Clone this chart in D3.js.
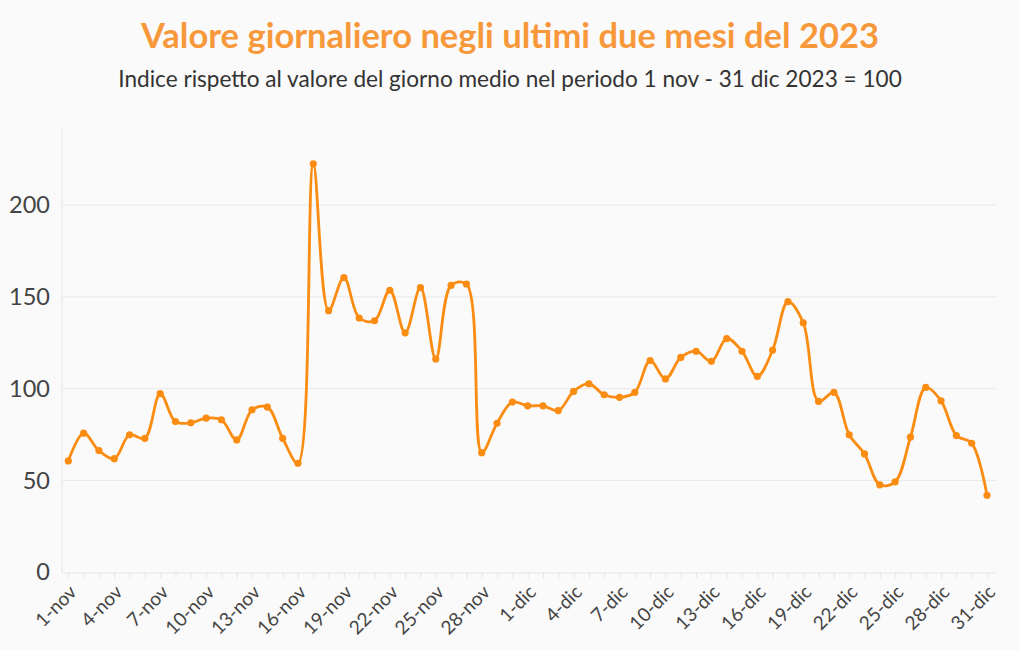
<!DOCTYPE html>
<html>
<head>
<meta charset="utf-8">
<script src="https://cdn.jsdelivr.net/npm/d3@7"></script>
<style>
  html, body { margin: 0; padding: 0; background: #fafafa; }
  svg { display: block; font-family: Lato, "Noto Sans", sans-serif; }
</style>
</head>
<body>
<svg id="chart" width="1020" height="650"></svg>
<script>
const title = "Valore giornaliero negli ultimi due mesi del 2023";
const subtitle = "Indice rispetto al valore del giorno medio nel periodo 1 nov - 31 dic 2023 = 100";

const days = [
  "1-nov","2-nov","3-nov","4-nov","5-nov","6-nov","7-nov","8-nov","9-nov","10-nov",
  "11-nov","12-nov","13-nov","14-nov","15-nov","16-nov","17-nov","18-nov","19-nov","20-nov",
  "21-nov","22-nov","23-nov","24-nov","25-nov","26-nov","27-nov","28-nov","29-nov","30-nov",
  "1-dic","2-dic","3-dic","4-dic","5-dic","6-dic","7-dic","8-dic","9-dic","10-dic",
  "11-dic","12-dic","13-dic","14-dic","15-dic","16-dic","17-dic","18-dic","19-dic","20-dic",
  "21-dic","22-dic","23-dic","24-dic","25-dic","26-dic","27-dic","28-dic","29-dic","30-dic","31-dic"
];
const values = [
  60.7, 75.8, 66.3, 61.9, 74.9, 73.0, 97.3, 82.1, 81.4, 84.0,
  83.1, 72.1, 88.5, 90.0, 73.0, 59.4, 222.4, 142.5, 160.5, 138.5,
  137.0, 153.6, 130.4, 155.0, 116.2, 156.3, 157.0, 65.2, 81.2, 92.7,
  90.7, 90.7, 88.1, 98.5, 102.7, 96.7, 95.3, 98.0, 115.3, 105.3,
  117.0, 120.4, 114.9, 127.3, 120.4, 106.7, 121.0, 147.4, 135.9, 93.1,
  98.0, 74.9, 64.5, 47.7, 49.3, 73.6, 100.7, 93.4, 74.5, 70.3, 42.0
];
const yTicks = [0, 50, 100, 150, 200];
const xTickLabels = days.filter((d, i) => i % 3 === 0);

const svg = d3.select("#chart");
const W = 1020, H = 650;
const m = { top: 128, right: 24, bottom: 78, left: 62 };
const FONT = "Lato, 'Noto Sans', sans-serif";

svg.append("rect").attr("width", W).attr("height", H).attr("fill", "#fafafa");

svg.append("text").attr("x", W / 2).attr("y", 48).attr("text-anchor", "middle")
  .attr("font-size", 34.5).attr("font-weight", 700).attr("fill", "#f7993b").text(title);
svg.append("text").attr("x", W / 2 ).attr("y", 87).attr("text-anchor", "middle")
  .attr("font-size", 22.6).attr("fill", "#333").text(subtitle);

const x = d3.scalePoint().domain(days).range([68.3, 987]);
const y = d3.scaleLinear().domain([0, 200]).range([572.4, 205]);

// grid
svg.append("g").selectAll("line").data(yTicks.filter(v => v > 0)).join("line")
  .attr("x1", m.left).attr("x2", W - m.right)
  .attr("y1", d => y(d)).attr("y2", d => y(d))
  .attr("stroke", "#e9e9e9").attr("stroke-width", 1);

// left axis line
svg.append("line").attr("x1", m.left).attr("x2", m.left)
  .attr("y1", m.top).attr("y2", y(0))
  .attr("stroke", "#e6e6e6").attr("stroke-width", 1);

// y axis
const yAxis = svg.append("g").attr("transform", `translate(${m.left},0)`)
  .call(d3.axisLeft(y).tickValues(yTicks).tickSize(0).tickPadding(12));
yAxis.select(".domain").remove();
yAxis.selectAll("text").attr("font-size", 23.5).attr("fill", "#444")
  .attr("font-family", FONT);

// x axis
const xAxis = svg.append("g").attr("transform", `translate(0,${y(0)})`)
  .call(d3.axisBottom(x).tickSize(6).tickPadding(0)
    .tickFormat(d => xTickLabels.includes(d) ? d : ""));
xAxis.select(".domain").attr("d", `M${m.left},0.5H${W - m.right}`).attr("stroke", "#e6e6e6");
xAxis.selectAll(".tick line").attr("stroke", "#e6e6e6");
xAxis.selectAll("text")
  .attr("font-size", 19).attr("fill", "#444")
  .attr("font-family", FONT)
  .attr("text-anchor", "end")
  .attr("x", 0).attr("y", 0).attr("dy", 0)
  .attr("transform", "translate(9,21) rotate(-45)");

// line
const line = d3.line()
  .x((d, i) => x(days[i]))
  .y(d => y(d))
  .curve(d3.curveCatmullRom.alpha(0.5));

svg.append("path").datum(values)
  .attr("d", line)
  .attr("fill", "none")
  .attr("stroke", "#fb8c12")
  .attr("stroke-width", 2.8);

svg.append("g").selectAll("circle").data(values).join("circle")
  .attr("cx", (d, i) => x(days[i]))
  .attr("cy", d => y(d))
  .attr("r", 3.6)
  .attr("fill", "#fb8c12");
</script>
</body>
</html>
